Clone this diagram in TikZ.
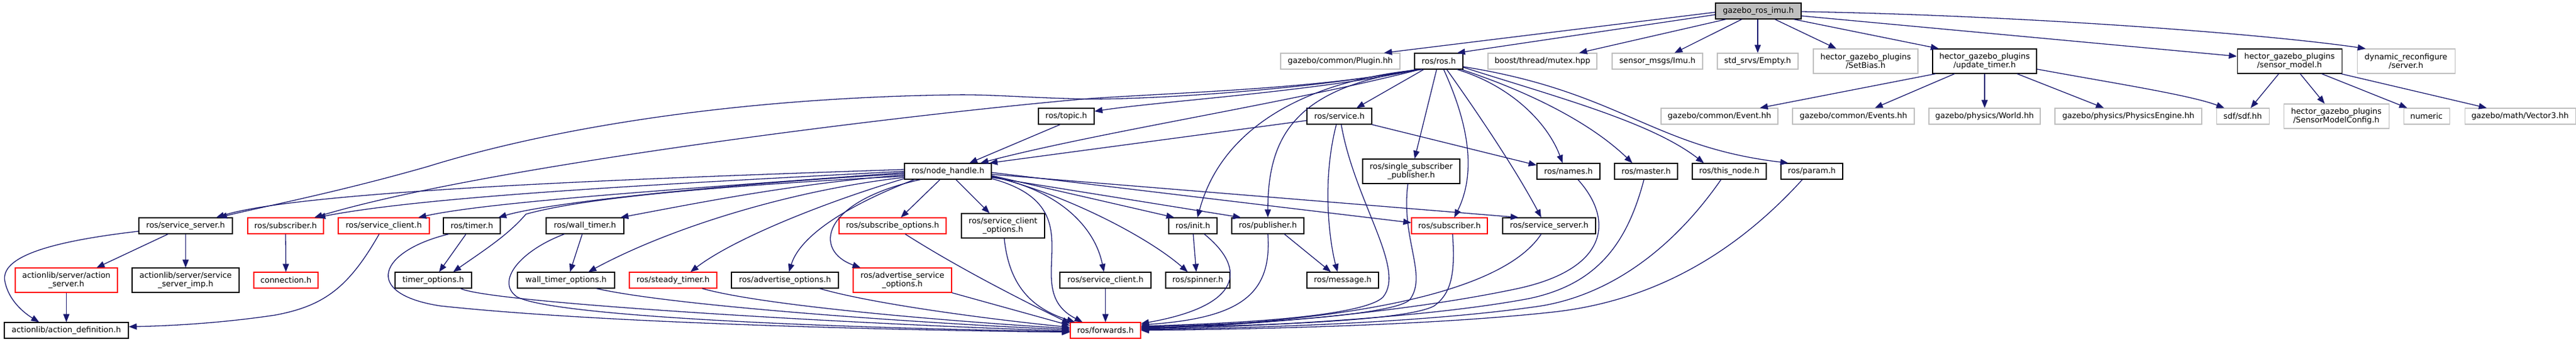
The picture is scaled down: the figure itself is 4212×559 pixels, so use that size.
\documentclass[tikz,border=0pt]{standalone}
\usepackage{fontspec}
\setmainfont{DejaVu Sans}
\usetikzlibrary{arrows.meta}
\definecolor{edgec}{HTML}{191970}
\definecolor{grayb}{HTML}{BFBFBF}
\definecolor{topf}{HTML}{BFBFBF}
\definecolor{redb}{HTML}{FF0000}
\newcommand\dvfont{\fontsize{12.9}{14.4}\selectfont}
\tikzset{
  box/.style={rectangle, inner sep=0pt, minimum height=26pt, line width=1.1pt, align=center, font=\dvfont, fill=white},
  two/.style={minimum height=40pt},
  nb/.style={box, draw=black},
  ng/.style={box, draw=grayb},
  nr/.style={box, draw=redb},
  e/.style={draw=edgec, line width=1.3pt, -{Triangle[length=13pt,width=10pt]}},
}
\begin{document}
\begin{tikzpicture}[x=1pt,y=-1pt]
\fill[white] (0,0) rectangle (4212,559);
\useasboundingbox (0,0) rectangle (4212,559);
% row 0
\node[nb, minimum width=140pt, fill=topf] (imu) at (2875,18) {gazebo\_ros\_imu.h};
% row 1
\node[ng, minimum width=195pt] (plugin) at (2191.5,100) {gazebo/common/Plugin.hh};
\node[nb, minimum width=79pt] (ros) at (2352.5,100) {ros/ros.h};
\node[ng, minimum width=178pt] (mutex) at (2522,100) {boost/thread/mutex.hpp};
\node[ng, minimum width=148pt] (imumsg) at (2710,100) {sensor\_msgs/Imu.h};
\node[ng, minimum width=132pt] (empty) at (2874,100) {std\_srvs/Empty.h};
\node[ng, two, minimum width=171pt] (setbias) at (3050.5,100) {hector\_gazebo\_plugins\\/SetBias.h};
\node[nb, two, minimum width=170pt] (updt) at (3245,100) {hector\_gazebo\_plugins\\/update\_timer.h};
\node[nb, two, minimum width=171pt] (smodel) at (3743.5,100) {hector\_gazebo\_plugins\\/sensor\_model.h};
\node[ng, two, minimum width=160pt] (dynrec) at (3934,100) {dynamic\_reconfigure\\/server.h};
% row 2
\node[nb, minimum width=91pt] (topic) at (1743.5,190) {ros/topic.h};
\node[nb, minimum width=106pt] (service) at (2190,190) {ros/service.h};
\node[ng, minimum width=191pt] (event) at (2811.5,190) {gazebo/common/Event.hh};
\node[ng, minimum width=199pt] (events) at (3030.5,190) {gazebo/common/Events.hh};
\node[ng, minimum width=182pt] (world) at (3245,190) {gazebo/physics/World.hh};
\node[ng, minimum width=240pt] (physeng) at (3480,190) {gazebo/physics/PhysicsEngine.hh};
\node[ng, minimum width=86pt] (sdf) at (3667,190) {sdf/sdf.hh};
\node[ng, two, minimum width=172pt] (smconf) at (3820,190) {hector\_gazebo\_plugins\\/SensorModelConfig.h};
\node[ng, minimum width=75pt] (numeric) at (3967.5,190) {numeric};
\node[ng, minimum width=181pt] (vector3) at (4120.5,190) {gazebo/math/Vector3.hh};
% row 3
\node[nb, minimum width=142pt] (nh) at (1550,280) {ros/node\_handle.h};
\node[nb, two, minimum width=159pt] (ssp) at (2307.5,280) {ros/single\_subscriber\\\_publisher.h};
\node[nb, minimum width=103pt] (names) at (2564.5,280) {ros/names.h};
\node[nb, minimum width=103pt] (master) at (2691.5,280) {ros/master.h};
\node[nb, minimum width=121pt] (thisnode) at (2827.5,280) {ros/this\_node.h};
\node[nb, minimum width=101pt] (param) at (2962.5,280) {ros/param.h};
% row 4
\node[nb, minimum width=153pt] (ssL) at (303.5,369) {ros/service\_server.h};
\node[nr, minimum width=124pt] (subL) at (467,369) {ros/subscriber.h};
\node[nr, minimum width=149pt] (sclR) at (627.5,369) {ros/service\_client.h};
\node[nb, minimum width=93pt] (timer) at (771.5,369) {ros/timer.h};
\node[nb, minimum width=127pt] (wtimer) at (956.5,369) {ros/wall\_timer.h};
\node[nr, minimum width=175pt] (subopt) at (1459.5,369) {ros/subscribe\_options.h};
\node[nb, two, minimum width=136pt] (scopt) at (1640,369) {ros/service\_client\\\_options.h};
\node[nb, minimum width=79pt] (init) at (1950.5,369) {ros/init.h};
\node[nb, minimum width=118pt] (pub) at (2073,369) {ros/publisher.h};
\node[nr, minimum width=124pt] (subR) at (2370,369) {ros/subscriber.h};
\node[nb, minimum width=152pt] (ssR) at (2533,369) {ros/service\_server.h};
% row 5
\node[nr, two, minimum width=167pt] (aserver) at (108.5,458) {actionlib/server/action\\\_server.h};
\node[nb, two, minimum width=175pt] (ssimp) at (303.5,458) {actionlib/server/service\\\_server\_imp.h};
\node[nr, minimum width=105pt] (conn) at (467.5,458) {connection.h};
\node[nb, minimum width=125pt] (topt) at (708.5,458) {timer\_options.h};
\node[nb, minimum width=159pt] (wtopt) at (925.5,458) {wall\_timer\_options.h};
\node[nr, minimum width=143pt] (stimer) at (1100.5,458) {ros/steady\_timer.h};
\node[nb, minimum width=175pt] (advopt) at (1283.5,458) {ros/advertise\_options.h};
\node[nr, two, minimum width=161pt] (advsopt) at (1475.5,458) {ros/advertise\_service\\\_options.h};
\node[nb, minimum width=149pt] (sclB) at (1807.5,458) {ros/service\_client.h};
\node[nb, minimum width=105pt] (spinner) at (1958.5,458) {ros/spinner.h};
\node[nb, minimum width=117pt] (message) at (2195.5,458) {ros/message.h};
% row 6
\node[nb, minimum width=203pt] (adef) at (108.5,540) {actionlib/action\_definition.h};
\node[nr, minimum width=115pt] (fwd) at (1807.5,540) {ros/forwards.h};

% ---- edges from gazebo_ros_imu.h
\draw[e] ([yshift=-2pt]imu.west) -- ([xshift=71.5pt]plugin.north);
\draw[e] ([yshift=-6pt]imu.west) -- ([xshift=30pt]ros.north);
\draw[e] ([xshift=-53pt]imu.south) -- ([xshift=60pt]mutex.north);
\draw[e] ([xshift=-27pt]imu.south) -- ([xshift=28pt]imumsg.north);
\draw[e] ([xshift=-1pt]imu.south) -- (empty.north);
\draw[e] ([xshift=27pt]imu.south) -- ([xshift=-48pt]setbias.north);
\draw[e] ([xshift=58pt]imu.south) -- ([xshift=-75pt]updt.north);
\draw[e] ([yshift=-8pt]imu.east) -- ([yshift=8pt]smodel.west);
\draw[e] ([yshift=-1pt]imu.east) .. controls (3300,25) and (3700,55) .. ([xshift=-66pt]dynrec.north);
% ---- update_timer.h
\draw[e] ([xshift=-80pt]updt.south) -- ([xshift=66pt]event.north);
\draw[e] ([xshift=-49pt]updt.south) -- ([xshift=35pt]events.north);
\draw[e] (updt.south) -- (world.north);
\draw[e] ([xshift=53pt]updt.south) -- ([xshift=-40pt]physeng.north);
\draw[e] ([yshift=-13pt]updt.east) .. controls (3450,135) and (3580,155) .. ([xshift=-30pt]sdf.north);
% ---- sensor_model.h
\draw[e] ([xshift=-17.5pt]smodel.south) -- ([xshift=13pt]sdf.north);
\draw[e] ([xshift=17.5pt]smodel.south) -- ([xshift=-19pt]smconf.north);
\draw[e] ([xshift=52.5pt]smodel.south) -- ([xshift=-31.5pt]numeric.north);
\draw[e] ([xshift=84pt]smodel.south) -- ([xshift=-54.5pt]vector3.north);
% ---- ros/ros.h
\draw[e] ([xshift=-24.5pt]ros.south) -- ([xshift=28pt]service.north);
\draw[e] ([xshift=-3.5pt]ros.south) -- ([xshift=5.5pt]ssp.north);
\draw[e] ([xshift=8pt]ros.south) .. controls (2400,200) and (2415,280) .. ([xshift=8pt]subR.north);
\draw[e] ([xshift=13pt]ros.south) .. controls (2420,190) and (2480,280) .. ([xshift=-13pt]ssR.north);
\draw[e] ([xshift=30pt]ros.south) .. controls (2470,140) and (2530,200) .. ([xshift=-9.5pt]names.north);
\draw[e] ([xshift=37pt]ros.south) .. controls (2500,150) and (2600,200) .. ([xshift=-22.5pt]master.north);
\draw[e] ([yshift=-10pt]ros.east) .. controls (2550,160) and (2700,200) .. ([xshift=-41.5pt]thisnode.north);
\draw[e] ([yshift=-9pt]ros.east) .. controls (2650,150) and (2700,240) .. ([xshift=-38.5pt]param.north);
\draw[e] ([xshift=-37pt]ros.south) .. controls (2150,145) and (1900,162) .. (1782,162) .. controls (1680,160) and (1620,154) .. (1560,155) .. controls (1200,160) and (900,210) .. (700,272) .. controls (550,315) and (420,340) .. ([xshift=54.5pt]ssL.north);
\draw[e] ([xshift=-35pt]ros.south) .. controls (2150,145) and (1950,150) .. (1782,161) .. controls (1500,185) and (800,270) .. ([xshift=47pt]subL.north);
\draw[e] ([xshift=-33pt]ros.south) .. controls (2150,150) and (1900,165) .. ([yshift=8pt]topic.east);
\draw[e] ([xshift=-31pt]ros.south) .. controls (2100,170) and (1800,215) .. ([xshift=53pt]nh.north);
\draw[e] ([xshift=-29pt]ros.south) .. controls (2150,130) and (2000,200) .. ([xshift=7.5pt]init.north);
\draw[e] ([xshift=-27pt]ros.south) .. controls (2120,140) and (2073,220) .. (pub.north);
% ---- ros/topic.h, ros/service.h
\draw[e] ([xshift=-10pt]topic.south) -- ([xshift=35pt]nh.north);
\draw[e] ([yshift=-7pt]service.west) -- ([xshift=68pt]nh.north);
\draw[e] ([xshift=53pt]service.south) -- ([yshift=10pt]names.west);
\draw[e] ([xshift=-5pt]service.south) .. controls (2160,300) and (2175,400) .. ([xshift=-8.5pt]message.north);
\draw[e] ([xshift=3pt]service.south) .. controls (2215,330) and (2300,440) .. (2261,486) .. controls (2230,515) and (2050,528) .. ([yshift=7pt]fwd.east);
% ---- right group to forwards
\draw[e] ([xshift=-5.5pt]ssp.south) .. controls (2290,390) and (2335,450) .. (2305,490) .. controls (2280,515) and (2050,530) .. ([yshift=6pt]fwd.east);
\draw[e] ([xshift=5pt]subR.south) .. controls (2380,450) and (2372,480) .. (2345,500) .. controls (2300,525) and (2050,533) .. ([yshift=5pt]fwd.east);
\draw[e] ([xshift=-13pt]ssR.south) .. controls (2450,490) and (2150,528) .. ([yshift=4pt]fwd.east);
\draw[e] ([xshift=15.5pt]names.south) .. controls (2640,360) and (2630,440) .. (2480,472) .. controls (2300,510) and (2050,532) .. ([yshift=3pt]fwd.east);
\draw[e] ([xshift=-3.5pt]master.south) .. controls (2660,400) and (2610,465) .. (2500,488) .. controls (2330,520) and (2050,534) .. ([yshift=2pt]fwd.east);
\draw[e] ([xshift=-13.5pt]thisnode.south) .. controls (2740,400) and (2640,480) .. (2520,500) .. controls (2330,528) and (2050,536) .. ([yshift=1pt]fwd.east);
\draw[e] ([xshift=-15.5pt]param.south) .. controls (2850,400) and (2720,490) .. (2540,510) .. controls (2340,532) and (2050,538) .. (fwd.east);
% ---- publisher, init
\draw[e] ([xshift=27pt]pub.south) -- ([xshift=-19.5pt]message.north);
\draw[e] (pub.south) .. controls (2080,480) and (2030,520) .. ([yshift=9pt]fwd.east);
\draw[e] ([xshift=0.5pt]init.south) -- ([xshift=-2.5pt]spinner.north);
\draw[e] ([xshift=18.5pt]init.south) .. controls (2040,440) and (2030,500) .. ([yshift=11pt]fwd.east);
% ---- node_handle.h to the right
\draw[e] ([xshift=-13pt]nh.south) -- ([xshift=13.5pt]subopt.north);
\draw[e] ([xshift=13pt]nh.south) -- ([xshift=-22pt]scopt.north);
\draw[e] ([yshift=-12pt]nh.east) .. controls (1800,340) and (1660,470) .. ([xshift=-37.5pt]fwd.north);
\draw[e] ([yshift=-9pt]nh.east) .. controls (1730,310) and (1790,370) .. ([xshift=-2.5pt]sclB.north);
\draw[e] ([yshift=-8pt]nh.east) .. controls (1750,320) and (1880,390) .. ([xshift=-16.5pt]spinner.north);
\draw[e] ([yshift=-7pt]nh.east) -- ([xshift=-30.5pt]init.north);
\draw[e] ([yshift=-10pt]nh.east) -- ([xshift=-44pt]pub.north);
\draw[e] ([yshift=-2pt]nh.east) -- ([yshift=5pt]subR.west);
\draw[e] ([yshift=-5pt]nh.east) -- ([xshift=-50pt]ssR.north);
% ---- node_handle.h to the left
\draw[e] ([yshift=3pt]nh.west) .. controls (1100,290) and (500,310) .. ([xshift=50pt]ssL.north);
\draw[e] (nh.west) .. controls (1100,300) and (700,320) .. ([xshift=52pt]subL.north);
\draw[e] ([yshift=-2pt]nh.west) .. controls (1100,310) and (800,330) .. ([xshift=56.5pt]sclR.north);
\draw[e] ([yshift=-4pt]nh.west) .. controls (1200,300) and (900,330) .. ([xshift=43.5pt]timer.north);
\draw[e] ([yshift=-6pt]nh.west) .. controls (1300,300) and (1150,330) .. ([xshift=58pt]wtimer.north);
\draw[e] ([yshift=-8pt]nh.west) .. controls (1150,305) and (950,325) .. (860,350) .. controls (830,385) and (790,410) .. ([xshift=32.5pt]topt.north);
\draw[e] ([yshift=-10pt]nh.west) .. controls (1300,310) and (1100,370) .. ([xshift=36.5pt]wtopt.north);
\draw[e] ([yshift=-12pt]nh.west) .. controls (1350,330) and (1200,390) .. ([xshift=28.5pt]stimer.north);
\draw[e] ([xshift=-55pt]nh.south) .. controls (1400,330) and (1310,380) .. ([xshift=6.5pt]advopt.north);
\draw[e] ([xshift=-45pt]nh.south) .. controls (1340,330) and (1330,410) .. ([xshift=-68.5pt]advsopt.north);
% ---- left group
\draw[e] ([xshift=-28.5pt]ssL.south) -- ([xshift=49.5pt]aserver.north);
\draw[e] (ssL.south) -- (ssimp.north);
\draw[e] ([yshift=-9pt]ssL.west) .. controls (80,395) and (0,420) .. (8,460) .. controls (15,495) and (45,515) .. ([xshift=-44.5pt]adef.north);
\draw[e] (aserver.south) -- (adef.north);
\draw[e] (subL.south) -- (conn.north);
\draw[e] ([xshift=-7.5pt]sclR.south) .. controls (570,470) and (530,500) .. (450,515) .. controls (350,530) and (260,533) .. ([yshift=6pt]adef.east);
\draw[e] ([xshift=-9.5pt]timer.south) -- ([xshift=9.5pt]topt.north);
\draw[e] ([xshift=-37.5pt]timer.south) .. controls (620,410) and (590,480) .. (720,500) .. controls (1000,530) and (1500,540) .. ([yshift=-3pt]fwd.west);
\draw[e] ([xshift=-4.5pt]wtimer.south) -- ([xshift=6.5pt]wtopt.north);
\draw[e] ([xshift=-33.5pt]wtimer.south) .. controls (850,410) and (810,460) .. (845,485) .. controls (900,515) and (1300,535) .. ([yshift=-2pt]fwd.west);
\draw[e] ([xshift=44.5pt]topt.south) .. controls (800,495) and (1400,530) .. ([yshift=-1pt]fwd.west);
\draw[e] ([xshift=49.5pt]wtopt.south) .. controls (1100,500) and (1500,528) .. ([yshift=1pt]fwd.west);
\draw[e] ([xshift=47.5pt]stimer.south) .. controls (1250,500) and (1550,525) .. ([yshift=3pt]fwd.west);
\draw[e] ([xshift=56.5pt]advopt.south) .. controls (1420,495) and (1600,520) .. ([yshift=5pt]fwd.west);
\draw[e] (advsopt.south east) -- ([yshift=8pt]fwd.west);
\draw[e] ([xshift=20.5pt]subopt.south) .. controls (1570,440) and (1680,495) .. ([yshift=11pt]fwd.west);
\draw[e] ([xshift=2pt]scopt.south) .. controls (1650,470) and (1690,505) .. ([xshift=-50pt]fwd.north);
\draw[e] (sclB.south) -- (fwd.north);
\end{tikzpicture}
\end{document}
